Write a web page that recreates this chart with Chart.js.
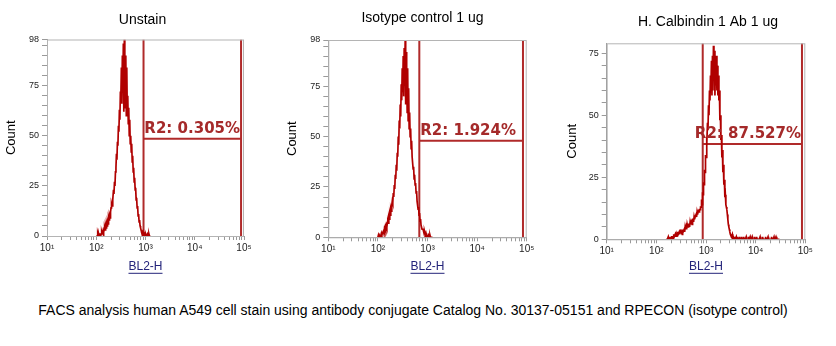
<!DOCTYPE html>
<html>
<head>
<meta charset="utf-8">
<script src="https://cdn.jsdelivr.net/npm/chart.js@4.4.1/dist/chart.umd.min.js"></script>
<style>
    body { margin: 0; background: #fff; }
    #wrap { position: relative; width: 836px; height: 346px; overflow: hidden; }
    #wrap canvas { position: absolute; top: 0; }
    #caption {
        position: absolute; left: 0; width: 826px; top: 302px;
        text-align: center; color: #000;
        font: 14px "Liberation Sans", Arial, sans-serif;
    }
</style>
</head>
<body>
<div id="wrap">
    <canvas id="p0" width="264" height="280" style="left:0px"></canvas>
    <canvas id="p1" width="266" height="280" style="left:281px"></canvas>
    <canvas id="p2" width="266" height="280" style="left:559px"></canvas>
    <div id="caption">FACS analysis human A549 cell stain using antibody conjugate Catalog No. 30137-05151 and RPECON (isotype control)</div>
</div>

<script>
// panel titles and axes
const panelTitles = ["Unstain", "Isotype control 1 ug", "H. Calbindin 1 Ab 1 ug"];
const xTitle = "BL2-H";
const yTitle = "Count";
const decades = [1, 2, 3, 4, 5];          // 10^1 .. 10^5
const yMajor = [[0, 25, 50, 75, 98], [0, 25, 50, 75, 98], [0, 25, 50, 75]];
const yMax = [98, 98, 79];

// histogram bins in log10(BL2-H), 0.01 decade wide
const binStep = 0.01;
const binStart = [2.00, 2.00, 2.20];

const unstainCounts = [
    0, 0, 0, 1, 0, 1, 0, 1, 1, 0,
    1, 2, 1, 2, 3, 2, 3, 4, 3, 5,
    4, 6, 5, 7, 6, 9, 8, 10, 9, 12,
    14, 16, 15, 19, 18, 23, 21, 27, 25, 32,
    34, 41, 38, 47, 45, 55, 52, 63, 58, 72,
    70, 84, 66, 90, 74, 96, 62, 98, 80, 64,
    90, 60, 84, 62, 70, 56, 64, 50, 58, 46,
    50, 42, 46, 37, 40, 32, 34, 27, 29, 23,
    24, 18, 19, 14, 15, 10, 11, 7, 8, 5,
    4, 3, 2, 2, 1, 2, 1, 1, 0, 1,
    0, 1, 0, 0, 1, 0, 0, 1, 0, 0, 0
];

const isotypeCounts = [
    0, 1, 0, 1, 1, 0, 1, 2, 1, 2,
    2, 3, 2, 4, 3, 5, 4, 6, 5, 7,
    8, 7, 10, 9, 12, 11, 14, 13, 16, 18,
    17, 22, 20, 26, 24, 31, 29, 36, 33, 42,
    40, 50, 46, 58, 54, 66, 60, 76, 68, 84,
    72, 90, 70, 94, 78, 98, 66, 92, 82, 62,
    84, 58, 74, 54, 62, 50, 54, 44, 48, 40,
    40, 34, 35, 29, 31, 26, 27, 22, 23, 18,
    18, 14, 15, 11, 12, 8, 9, 6, 6, 4,
    4, 4, 3, 2, 3, 2, 1, 2, 1, 1,
    1, 0, 1, 0, 0, 1, 0, 0, 0, 0, 0
];

const calbindinCounts = [
    0, 0, 0, 0, 1, 0, 0, 1, 0, 1,
    0, 1, 1, 0, 1, 2, 1, 1, 2, 1,
    2, 1, 2, 3, 2, 2, 3, 2, 3, 4,
    3, 3, 2, 4, 3, 3, 4, 3, 5, 4,
    5, 4, 6, 5, 5, 6, 6, 5, 7, 6,
    7, 8, 6, 8, 8, 7, 9, 8, 9, 9,
    10, 9, 11, 10, 11, 12, 11, 12, 12, 13,
    13, 16, 14, 19, 18, 23, 22, 28, 27, 34,
    33, 41, 38, 47, 44, 54, 50, 60, 56, 66,
    62, 72, 58, 74, 60, 78, 64, 76, 58, 72,
    62, 74, 60, 70, 58, 66, 56, 60, 48, 50,
    40, 42, 33, 36, 27, 30, 22, 24, 17, 18,
    14, 13, 12, 10, 8, 6, 5, 4, 3, 2,
    2, 1, 1, 2, 0, 1, 1, 0, 1, 0,
    0, 1, 0, 0, 1, 0, 0, 0, 1, 0,
    0, 0, 1, 0, 0, 0, 1, 0, 0, 0,
    0, 1, 0, 0, 0, 0, 1, 0, 0, 1,
    0, 0, 0, 1, 0, 0, 0, 0, 1, 0,
    0, 0, 1, 0, 0, 0, 0, 0, 0, 1,
    0, 0, 0, 0, 1, 0, 0, 0, 0, 0,
    1, 0, 0, 0, 0, 1, 0, 0, 0, 0,
    0, 0, 1, 0, 0, 0, 0, 1, 0, 0,
    0, 1, 0, 0, 0, 0, 0, 0, 0, 0
];

// R2 gate: log10 bounds, marker height, label
const gateLow = [2.96, 2.835, 2.934];
const gateHigh = [4.94, 4.925, 4.933];
const gateLevel = [48.5, 48, 38.4];
const gateText = ["R2: 0.305%", "R2: 1.924%", "R2: 87.527%"];

const allCounts = [unstainCounts, isotypeCounts, calbindinCounts];

// where each plot box sits (canvas-relative)
const frames = [
    { width: 264, plotLeft: 47,   plotRight: 244,   top: 39.5, bottom: 236,   titleY: 20,   titleDx: -3, countPad: 4 },
    { width: 266, plotLeft: 47.3, plotRight: 245.7, top: 40,   bottom: 237.3, titleY: 18.5, titleDx: -5, countPad: 4 },
    { width: 266, plotLeft: 47.7, plotRight: 246.3, top: 43.3, bottom: 239.3, titleY: 22.5, titleDx: 2,  countPad: 6 }
];

const SUP = { 1: "\u00b9", 2: "\u00b2", 3: "\u00b3", 4: "\u2074", 5: "\u2075" };
const RED = "#b02a2a";
const AXIS = "#9a9a9a";

Chart.defaults.font.family = '"Liberation Sans", Arial, sans-serif';
Chart.defaults.color = "#222";

// frame, panel title, gate label, underlined axis title
const facsDecor = {
    id: "facsDecor",
    afterDraw(chart, args, opts) {
        const ctx = chart.ctx;
        const a = chart.chartArea;
        const y = chart.scales.y;
        ctx.save();

        ctx.strokeStyle = "#b4b4b4";
        ctx.lineWidth = 1;
        ctx.strokeRect(a.left + 0.5, a.top + 0.5, a.right - a.left - 1, a.bottom - a.top);

        ctx.fillStyle = "#000";
        ctx.font = '14px "Liberation Sans", Arial, sans-serif';
        ctx.textAlign = "center";
        ctx.textBaseline = "middle";
        ctx.fillText(opts.title, (a.left + a.right) / 2 + opts.titleDx, opts.titleY);

        // gate label sits on the horizontal marker
        const x = chart.scales.x;
        const xl = x.getPixelForValue(opts.gateLow);
        const xh = x.getPixelForValue(opts.gateHigh);
        ctx.font = 'bold 15px "DejaVu Sans", Verdana, sans-serif';
        const w = ctx.measureText(opts.gateText).width;
        ctx.fillStyle = "#a52a2a";
        ctx.textAlign = "left";
        ctx.textBaseline = "alphabetic";
        ctx.fillText(opts.gateText, Math.min(xl + 1, xh - w - 1), y.getPixelForValue(opts.gateLevel) - 6);

        // BL2-H looks like a link
        ctx.font = '12px "Liberation Sans", Arial, sans-serif';
        const tw = ctx.measureText(xTitle).width;
        const cx = (a.left + a.right) / 2;
        const ty = chart.height - 6 - 7.2 + 6;
        ctx.strokeStyle = "#23237a";
        ctx.beginPath();
        ctx.moveTo(cx - tw / 2, ty + 0.5);
        ctx.lineTo(cx + tw / 2, ty + 0.5);
        ctx.stroke();
        ctx.restore();
    }
};

function makePanel(i) {
    const f = frames[i];
    const counts = allCounts[i];
    const hist = counts.map((c, k) => ({ x: binStart[i] + k * binStep, y: c }));
    const gl = gateLow[i], gh = gateHigh[i], top = yMax[i];

    const gateStyle = { borderColor: RED, borderWidth: 2, pointRadius: 0, fill: false };

    new Chart(document.getElementById("p" + i), {
        type: "line",
        data: {
            datasets: [
                { data: hist, borderColor: "#b00000", borderWidth: 1.7, pointRadius: 0, tension: 0, fill: false },
                { ...gateStyle, data: [{ x: gl, y: 0 }, { x: gl, y: top }] },
                { ...gateStyle, data: [{ x: gh, y: 0 }, { x: gh, y: top }] },
                { ...gateStyle, data: [{ x: gl, y: gateLevel[i] }, { x: gh, y: gateLevel[i] }] }
            ]
        },
        options: {
            responsive: false,
            animation: false,
            devicePixelRatio: 1,
            layout: { padding: { left: 0, top: f.top, right: f.width - f.plotRight, bottom: 0 } },
            plugins: {
                legend: { display: false },
                tooltip: { enabled: false },
                facsDecor: {
                    title: panelTitles[i], titleY: f.titleY, titleDx: f.titleDx,
                    gateLow: gl, gateHigh: gh, gateLevel: gateLevel[i], gateText: gateText[i]
                }
            },
            scales: {
                x: {
                    type: "linear",
                    min: decades[0],
                    max: decades[decades.length - 1],
                    afterFit: s => { s.height = 280 - f.bottom; },
                    afterBuildTicks: s => {
                        const t = [];
                        decades.forEach(d => {
                            if (d === decades[decades.length - 1]) { t.push({ value: d }); return; }
                            for (let k = 1; k <= 9; k++) t.push({ value: d + Math.log10(k) });
                        });
                        s.ticks = t;
                    },
                    ticks: {
                        autoSkip: false,
                        maxRotation: 0,
                        padding: 2,
                        font: { size: 10 },
                        color: "#222",
                        callback: v => (decades.includes(v) ? "10" + SUP[v] : "")
                    },
                    grid: { drawOnChartArea: false, drawTicks: true, tickLength: 4, tickColor: AXIS },
                    border: { color: AXIS },
                    title: { display: true, text: xTitle, color: "#23237a", font: { size: 12 }, padding: { top: 0, bottom: 6 } }
                },
                y: {
                    min: 0,
                    max: top,
                    afterFit: s => { s.width = f.plotLeft; },
                    afterBuildTicks: s => {
                        const t = [];
                        for (let v = 0; v <= top; v += 5) t.push({ value: v });
                        if (yMajor[i].includes(top)) t.push({ value: top });
                        s.ticks = t;
                    },
                    ticks: {
                        autoSkip: false,
                        padding: 3,
                        font: { size: 9 },
                        color: "#222",
                        callback: v => (yMajor[i].includes(v) ? String(v) : "")
                    },
                    grid: { drawOnChartArea: false, drawTicks: true, tickLength: 5, tickColor: AXIS },
                    border: { color: AXIS },
                    title: { display: true, text: yTitle, color: "#000", font: { size: 13 }, padding: { top: f.countPad, bottom: 0 } }
                }
            }
        },
        plugins: [facsDecor]
    });
}

[0, 1, 2].forEach(makePanel);
</script>
</body>
</html>
